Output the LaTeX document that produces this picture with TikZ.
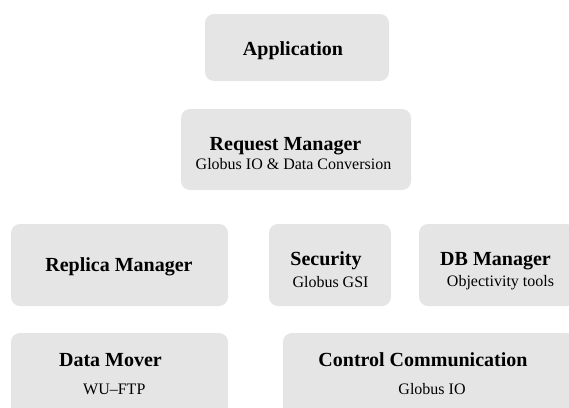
\documentclass[tikz,border=0pt]{standalone}
\usepackage{fontspec}
\setmainfont{Liberation Serif}
\begin{document}
\begin{tikzpicture}[x=1pt,y=-1pt,
  box/.style={fill=boxgray,draw=none,rounded corners=9pt},
  title/.style={anchor=base,inner sep=0pt,font=\fontsize{20}{24}\selectfont\bfseries},
  sub/.style={anchor=base,inner sep=0pt,font=\fontsize{16}{19}\selectfont}]
\definecolor{boxgray}{RGB}{229,229,229}
\useasboundingbox (0,0) rectangle (569,407);
\clip (0,0) rectangle (569,407);
% boxes
\path[box] (205,14) rectangle (389,81) node[midway] (app) {};
\path[box] (181,109) rectangle (411,190) node[midway] (req) {};
\path[box] (11,224) rectangle (228,306) node[midway] (rep) {};
\path[box] (269,224) rectangle (391,306) node[midway] (sec) {};
\path[box] (419,224) rectangle (575,306) node[midway] (db) {};
\path[box] (11,333) rectangle (228,420) node[midway] (dm) {};
\path[box] (283,333) rectangle (575,420) node[midway] (cc) {};
% texts
\node[title] (appt) at (293,55) {Application};
\node[title] (reqt) at (285.5,150) {Request Manager};
\node[sub] (reqs) at (293.5,169.5) {Globus IO \& Data Conversion};
\node[title] (rept) at (119,271) {Replica Manager};
\node[title] (sect) at (326,265) {Security};
\node[sub] (secs) at (330.5,287) {Globus GSI};
\node[title] (dbt) at (495.5,265) {DB Manager};
\node[sub] (dbs) at (500.5,286) {Objectivity tools};
\node[title] (dmt) at (110.5,366.5) {Data Mover};
\node[sub] (dms) at (114.3,394) {WU–FTP};
\node[title] (cct) at (423,366.5) {Control Communication};
\node[sub] (ccs) at (432,394) {Globus IO};
\end{tikzpicture}
\end{document}
